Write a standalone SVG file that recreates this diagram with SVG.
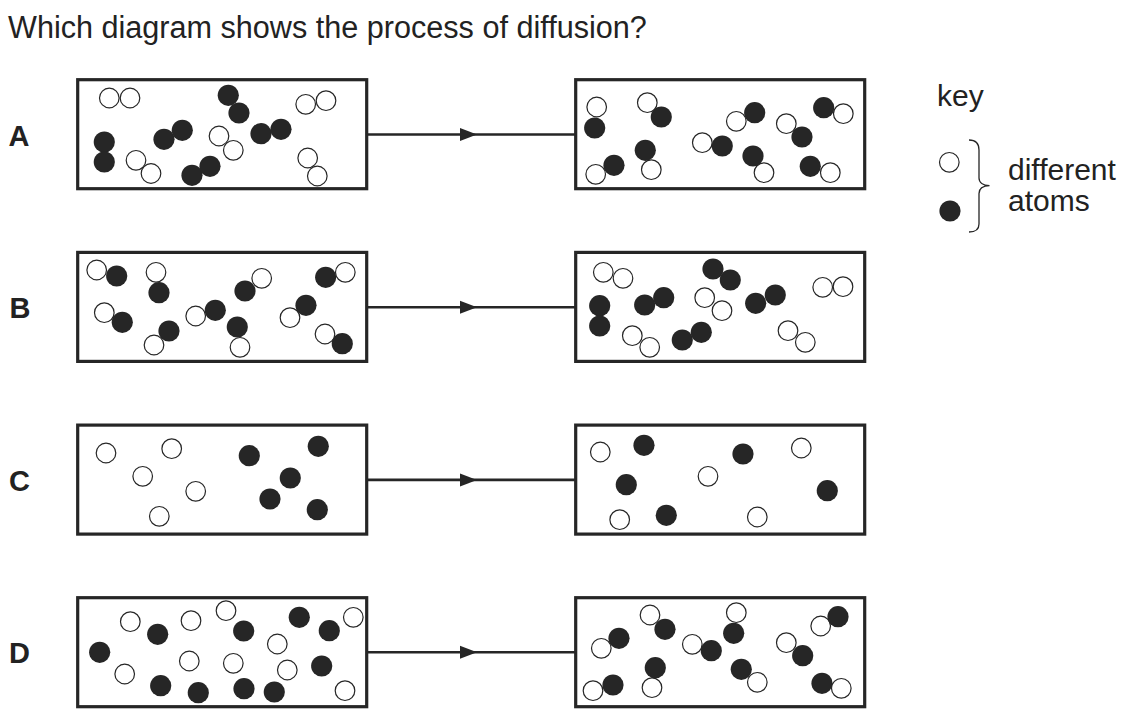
<svg xmlns="http://www.w3.org/2000/svg" width="1134" height="725" viewBox="0 0 1134 725">
<style>
.t{font-family:"Liberation Sans",Arial,sans-serif;font-size:30px;fill:#222}
.ti{font-family:"Liberation Sans",Arial,sans-serif;font-size:30.6px;fill:#222}
.lb{font-family:"Liberation Sans",Arial,sans-serif;font-size:29px;font-weight:bold;fill:#222}
.box{fill:#fff;stroke:#262626;stroke-width:3.2}
.o{fill:#fff;stroke:#262626;stroke-width:1.2}
.f{fill:#262626}
.ln{stroke:#262626;stroke-width:2.6;fill:none}
.ah{fill:#262626}
.br{fill:none;stroke:#262626;stroke-width:1.3}
</style>
<rect width="1134" height="725" fill="#fff"/>
<text class="ti" x="8" y="37.5">Which diagram shows the process of diffusion?</text>
<text class="lb" x="8.5" y="145.5">A</text>
<text class="lb" x="9.5" y="318">B</text>
<text class="lb" x="9" y="490.5">C</text>
<text class="lb" x="9" y="663">D</text>

<g id="connectors">
<line class="ln" x1="367" y1="134.5" x2="576" y2="134.5"/>
<polygon class="ah" points="460,128 477,134.5 460,141"/>
<line class="ln" x1="367" y1="307.2" x2="576" y2="307.2"/>
<polygon class="ah" points="460,300.7 477,307.2 460,313.7"/>
<line class="ln" x1="367" y1="479.9" x2="576" y2="479.9"/>
<polygon class="ah" points="460,473.4 477,479.9 460,486.4"/>
<line class="ln" x1="367" y1="652.2" x2="576" y2="652.2"/>
<polygon class="ah" points="460,645.7 477,652.2 460,658.7"/>
</g>

<g id="A-before">
<rect class="box" x="77.7" y="79.7" width="289" height="109"/>
<circle class="o" cx="109.3" cy="98" r="9.8"/><circle class="o" cx="130" cy="98" r="9.8"/>
<circle class="o" cx="136" cy="160.3" r="9.8"/><circle class="o" cx="151" cy="173.5" r="9.8"/>
<circle class="o" cx="219" cy="136" r="9.8"/><circle class="o" cx="233.3" cy="150.3" r="9.8"/>
<circle class="o" cx="305.7" cy="104.3" r="9.8"/><circle class="o" cx="326" cy="100.7" r="9.8"/>
<circle class="o" cx="307.7" cy="158" r="9.8"/><circle class="o" cx="317.3" cy="176" r="9.8"/>
<circle class="f" cx="228.3" cy="95.3" r="10.6"/><circle class="f" cx="239" cy="113" r="10.6"/>
<circle class="f" cx="104.3" cy="142" r="10.6"/><circle class="f" cx="104.3" cy="162" r="10.6"/>
<circle class="f" cx="164" cy="139.3" r="10.6"/><circle class="f" cx="182.3" cy="130.3" r="10.6"/>
<circle class="f" cx="192" cy="175.3" r="10.6"/><circle class="f" cx="210" cy="166.3" r="10.6"/>
<circle class="f" cx="261" cy="133.7" r="10.6"/><circle class="f" cx="281" cy="129.3" r="10.6"/>
</g>

<g id="A-after">
<rect class="box" x="575.7" y="79.7" width="289" height="109"/>
<circle class="o" cx="596.7" cy="107" r="9.8"/><circle class="o" cx="647.3" cy="102.7" r="9.8"/>
<circle class="o" cx="595.7" cy="174.3" r="9.8"/><circle class="o" cx="651.3" cy="169.7" r="9.8"/>
<circle class="o" cx="736.3" cy="121.3" r="9.8"/><circle class="o" cx="702.3" cy="142.7" r="9.8"/>
<circle class="o" cx="786.3" cy="123.7" r="9.8"/><circle class="o" cx="764" cy="172.7" r="9.8"/>
<circle class="o" cx="843.3" cy="113.7" r="9.8"/><circle class="o" cx="830.3" cy="172.7" r="9.8"/>
<circle class="f" cx="594.7" cy="128" r="10.6"/><circle class="f" cx="661.3" cy="117" r="10.6"/>
<circle class="f" cx="614" cy="165.3" r="10.6"/><circle class="f" cx="645.3" cy="150.3" r="10.6"/>
<circle class="f" cx="754.7" cy="112.7" r="10.6"/><circle class="f" cx="722.3" cy="146" r="10.6"/>
<circle class="f" cx="802" cy="137" r="10.6"/><circle class="f" cx="753" cy="156" r="10.6"/>
<circle class="f" cx="823.7" cy="107.7" r="10.6"/><circle class="f" cx="810.3" cy="166.3" r="10.6"/>
</g>

<g id="B-before">
<rect class="box" x="77.7" y="252.4" width="289" height="109"/>
<circle class="o" cx="96.7" cy="270" r="9.8"/><circle class="o" cx="156" cy="272.3" r="9.8"/>
<circle class="o" cx="104.3" cy="312.7" r="9.8"/><circle class="o" cx="154" cy="345" r="9.8"/>
<circle class="o" cx="261.7" cy="278.3" r="9.8"/><circle class="o" cx="195.7" cy="316" r="9.8"/>
<circle class="o" cx="240" cy="347.3" r="9.8"/><circle class="o" cx="345.3" cy="272.3" r="9.8"/>
<circle class="o" cx="290" cy="317.7" r="9.8"/><circle class="o" cx="325" cy="334" r="9.8"/>
<circle class="f" cx="116.7" cy="276" r="10.6"/><circle class="f" cx="159" cy="292.7" r="10.6"/>
<circle class="f" cx="122.3" cy="322.3" r="10.6"/><circle class="f" cx="169" cy="331" r="10.6"/>
<circle class="f" cx="245" cy="291" r="10.6"/><circle class="f" cx="215.3" cy="310.3" r="10.6"/>
<circle class="f" cx="237.3" cy="327" r="10.6"/><circle class="f" cx="325.7" cy="277.3" r="10.6"/>
<circle class="f" cx="306" cy="305.3" r="10.6"/><circle class="f" cx="342.3" cy="343.7" r="10.6"/>
</g>

<g id="B-after">
<rect class="box" x="575.7" y="252.4" width="289" height="109"/>
<circle class="o" cx="603.3" cy="272.3" r="9.8"/><circle class="o" cx="623" cy="278.3" r="9.8"/>
<circle class="o" cx="704.7" cy="297.7" r="9.8"/><circle class="o" cx="722" cy="310.7" r="9.8"/>
<circle class="o" cx="632.3" cy="335.7" r="9.8"/><circle class="o" cx="649.7" cy="347.3" r="9.8"/>
<circle class="o" cx="822.7" cy="287.3" r="9.8"/><circle class="o" cx="843" cy="286.7" r="9.8"/>
<circle class="o" cx="788" cy="330.7" r="9.8"/><circle class="o" cx="805.3" cy="342.3" r="9.8"/>
<circle class="f" cx="713" cy="269" r="10.6"/><circle class="f" cx="730.3" cy="280" r="10.6"/>
<circle class="f" cx="599.7" cy="305.7" r="10.6"/><circle class="f" cx="599.7" cy="326" r="10.6"/>
<circle class="f" cx="644.7" cy="305" r="10.6"/><circle class="f" cx="663.7" cy="297.7" r="10.6"/>
<circle class="f" cx="682.3" cy="340" r="10.6"/><circle class="f" cx="701.3" cy="332.3" r="10.6"/>
<circle class="f" cx="755.7" cy="303.3" r="10.6"/><circle class="f" cx="775.3" cy="295" r="10.6"/>
</g>

<g id="C-before">
<rect class="box" x="77.7" y="425.1" width="289" height="109"/>
<circle class="o" cx="106" cy="453" r="9.8"/><circle class="o" cx="171.7" cy="448.7" r="9.8"/>
<circle class="o" cx="142.7" cy="476.3" r="9.8"/><circle class="o" cx="195.7" cy="491.3" r="9.8"/>
<circle class="o" cx="159.3" cy="516.3" r="9.8"/>
<circle class="f" cx="249.3" cy="455.7" r="10.6"/><circle class="f" cx="318.3" cy="446.3" r="10.6"/>
<circle class="f" cx="290.3" cy="478" r="10.6"/><circle class="f" cx="270" cy="499" r="10.6"/>
<circle class="f" cx="317.3" cy="509.7" r="10.6"/>
</g>

<g id="C-after">
<rect class="box" x="575.7" y="425.1" width="289" height="109"/>
<circle class="o" cx="600.3" cy="452" r="9.8"/><circle class="o" cx="708" cy="476.3" r="9.8"/>
<circle class="o" cx="801.3" cy="448" r="9.8"/><circle class="o" cx="619.7" cy="519.7" r="9.8"/>
<circle class="o" cx="757.3" cy="517" r="9.8"/>
<circle class="f" cx="644" cy="445.3" r="10.6"/><circle class="f" cx="743" cy="454" r="10.6"/>
<circle class="f" cx="626.3" cy="484.7" r="10.6"/><circle class="f" cx="666.3" cy="515.3" r="10.6"/>
<circle class="f" cx="827.3" cy="490.7" r="10.6"/>
</g>

<g id="D-before">
<rect class="box" x="77.7" y="597.7" width="289" height="109"/>
<circle class="o" cx="130.3" cy="621.7" r="9.8"/><circle class="o" cx="191" cy="620.7" r="9.8"/>
<circle class="o" cx="226" cy="610.7" r="9.8"/><circle class="o" cx="353.3" cy="617.3" r="9.8"/>
<circle class="o" cx="277.3" cy="644" r="9.8"/><circle class="o" cx="189.3" cy="661" r="9.8"/>
<circle class="o" cx="233.3" cy="663.3" r="9.8"/><circle class="o" cx="124.7" cy="674" r="9.8"/>
<circle class="o" cx="287.3" cy="670" r="9.8"/><circle class="o" cx="345" cy="690.7" r="9.8"/>
<circle class="f" cx="157.7" cy="634.3" r="10.6"/><circle class="f" cx="243.7" cy="631" r="10.6"/>
<circle class="f" cx="299.3" cy="617.3" r="10.6"/><circle class="f" cx="329.3" cy="630.7" r="10.6"/>
<circle class="f" cx="99.7" cy="652.3" r="10.6"/><circle class="f" cx="321.7" cy="666" r="10.6"/>
<circle class="f" cx="160.7" cy="685.7" r="10.6"/><circle class="f" cx="198.3" cy="692.7" r="10.6"/>
<circle class="f" cx="244" cy="688.7" r="10.6"/><circle class="f" cx="274.3" cy="692" r="10.6"/>
</g>

<g id="D-after">
<rect class="box" x="575.7" y="597.7" width="289" height="109"/>
<circle class="o" cx="650" cy="615" r="9.8"/><circle class="o" cx="736.3" cy="612.7" r="9.8"/>
<circle class="o" cx="601.3" cy="648.3" r="9.8"/><circle class="o" cx="692.3" cy="644.3" r="9.8"/>
<circle class="o" cx="786.3" cy="642.7" r="9.8"/><circle class="o" cx="820.7" cy="626" r="9.8"/>
<circle class="o" cx="593" cy="690.7" r="9.8"/><circle class="o" cx="652" cy="687.7" r="9.8"/>
<circle class="o" cx="757.3" cy="682.3" r="9.8"/><circle class="o" cx="841.3" cy="688.3" r="9.8"/>
<circle class="f" cx="619" cy="638.3" r="10.6"/><circle class="f" cx="665" cy="629.3" r="10.6"/>
<circle class="f" cx="733.7" cy="633.3" r="10.6"/><circle class="f" cx="838" cy="616.7" r="10.6"/>
<circle class="f" cx="711.3" cy="650.7" r="10.6"/><circle class="f" cx="802.7" cy="655.7" r="10.6"/>
<circle class="f" cx="655.3" cy="667.7" r="10.6"/><circle class="f" cx="741.3" cy="669.3" r="10.6"/>
<circle class="f" cx="613" cy="685" r="10.6"/><circle class="f" cx="822" cy="683.3" r="10.6"/>
</g>

<g id="key">
<text class="t" x="937" y="106">key</text>
<circle class="o" cx="949.3" cy="162.3" r="9.8"/>
<circle class="f" cx="950" cy="211" r="10.6"/>
<path class="br" d="M969,140 C976,140 979,143 979,150 L979,178 C979,182.5 983,185.5 989.5,185.7 C983,186 979,189 979,193.5 L979,224 C979,229 976,232 969,232"/>
<text class="t" x="1008" y="180">different</text>
<text class="t" x="1008" y="211">atoms</text>
</g>
</svg>
